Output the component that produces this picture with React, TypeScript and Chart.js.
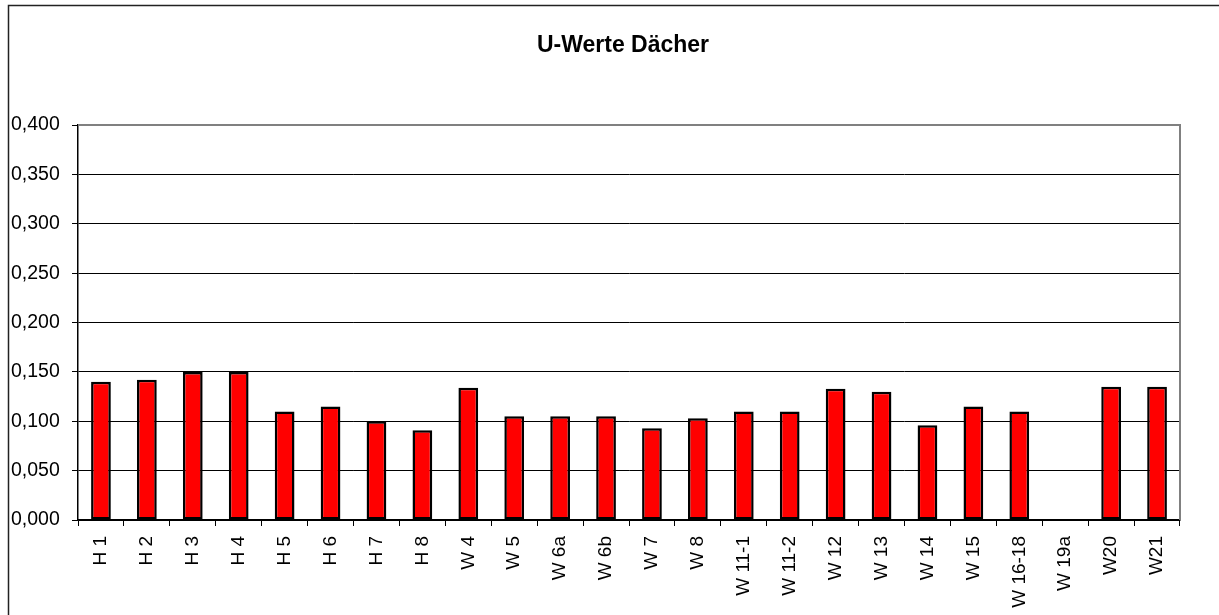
import React, { useEffect, useRef } from "react";
import { Chart, registerables } from "chart.js";

Chart.register(...registerables);

const categories = [
  "H 1", "H 2", "H 3", "H 4", "H 5", "H 6", "H 7", "H 8",
  "W 4", "W 5", "W 6a", "W 6b", "W 7", "W 8", "W 11-1", "W 11-2",
  "W 12", "W 13", "W 14", "W 15", "W 16-18", "W 19a", "W20", "W21",
];

const uValues: (number | null)[] = [
  0.140, 0.142, 0.150, 0.150, 0.110, 0.115, 0.100, 0.091,
  0.134, 0.105, 0.105, 0.105, 0.093, 0.103, 0.110, 0.110,
  0.133, 0.130, 0.096, 0.115, 0.110, null, 0.135, 0.135,
];

const chartTitle = "U-Werte Dächer";
const yMin = 0;
const yMax = 0.4;
const yStep = 0.05;

const FONT = "Arial, 'Liberation Sans', sans-serif";

const decorPlugin = {
  id: "decor",
  beforeDraw(chart: any) {
    const ctx = chart.ctx;
    ctx.save();
    ctx.strokeStyle = "#222";
    ctx.lineWidth = 1.5;
    ctx.strokeRect(8.5, 5.5, 1400, 800);
    ctx.restore();
  },
  afterDraw(chart: any) {
    const ctx = chart.ctx;
    const a = chart.chartArea;
    ctx.save();
    ctx.strokeStyle = "#808080";
    ctx.lineWidth = 2;
    ctx.beginPath();
    ctx.moveTo(a.left, a.top);
    ctx.lineTo(a.right, a.top);
    ctx.lineTo(a.right, a.bottom);
    ctx.stroke();
    ctx.fillStyle = "#000";
    ctx.font = `bold 23px ${FONT}`;
    ctx.textAlign = "center";
    ctx.textBaseline = "middle";
    ctx.fillText(chartTitle, 623, 46);
    ctx.restore();
  },
};

export default function App() {
  const ref = useRef<HTMLCanvasElement>(null);

  useEffect(() => {
    if (!ref.current) return;
    const chart = new Chart(ref.current, {
      type: "bar",
      data: {
        labels: categories,
        datasets: [
          {
            data: uValues,
            backgroundColor: "#FF0000",
            borderColor: "#000000",
            borderWidth: 2.5,
            borderSkipped: false,
            categoryPercentage: 1,
            barPercentage: 0.43,
          },
        ],
      },
      options: {
        responsive: false,
        animation: false,
        layout: { padding: { left: 11, top: 125, right: 39, bottom: 0 } },
        plugins: {
          legend: { display: false },
          title: { display: false },
          tooltip: { enabled: false },
        },
        scales: {
          x: {
            afterFit(scale: any) {
              scale.height = 95;
            },
            grid: {
              display: true,
              drawOnChartArea: false,
              drawTicks: true,
              tickLength: 6,
              color: "#000",
              lineWidth: 1,
            },
            border: { display: true, color: "#000", width: 1.5 },
            ticks: {
              minRotation: 90,
              maxRotation: 90,
              autoSkip: false,
              padding: 10,
              color: "#000",
              font: { family: FONT, size: 19 },
            },
          },
          y: {
            min: yMin,
            max: yMax,
            afterFit(scale: any) {
              scale.width = 67;
            },
            grid: {
              color: "#000",
              lineWidth: 1,
              tickLength: 6,
              drawTicks: true,
            },
            border: { display: true, color: "#000", width: 1.5 },
            ticks: {
              stepSize: yStep,
              crossAlign: "far",
              padding: 4,
              color: "#000",
              font: { family: FONT, size: 19.5 },
              callback: (v: any) => Number(v).toFixed(3).replace(".", ","),
            },
          },
        },
      },
      plugins: [decorPlugin],
    });
    return () => chart.destroy();
  }, []);

  return (
    <div style={{ position: "absolute", left: 0, top: 0, width: 1219, height: 615, background: "#fff" }}>
      <canvas ref={ref} width={1219} height={615} />
    </div>
  );
}
